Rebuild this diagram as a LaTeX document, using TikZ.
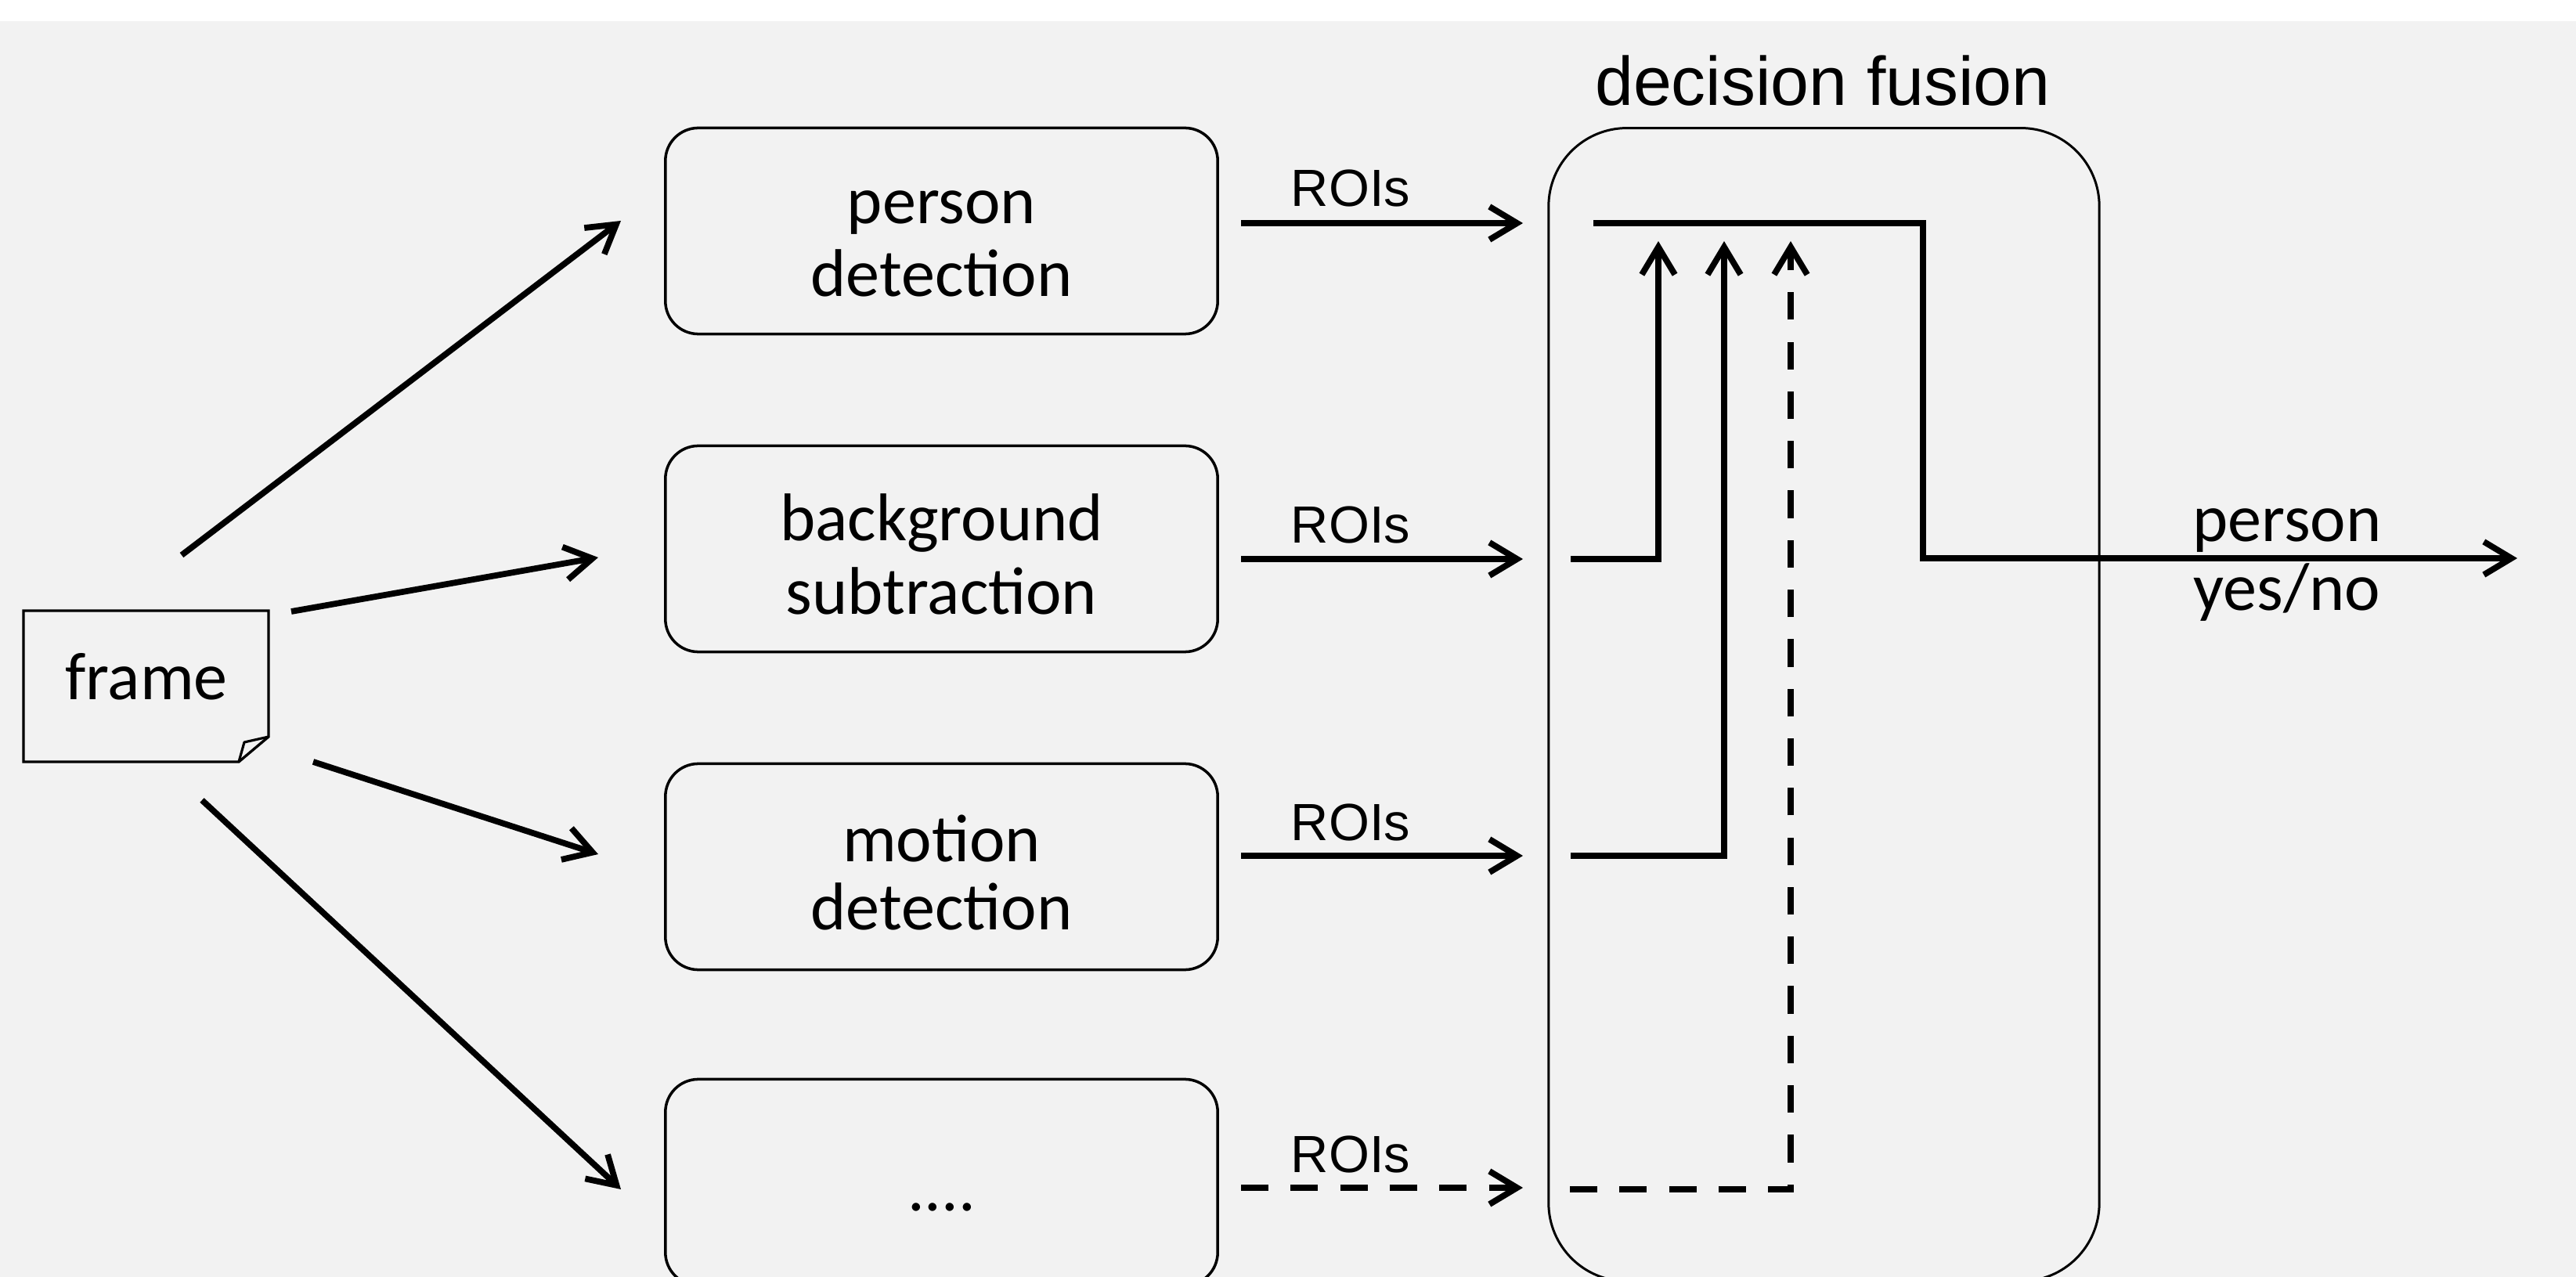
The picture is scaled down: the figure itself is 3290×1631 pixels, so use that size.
\documentclass[tikz,border=0pt]{standalone}
\usepackage{fontspec}
\setmainfont{Carlito}
\newfontfamily\arialfont{Liberation Sans}
\usetikzlibrary{arrows.meta}
\definecolor{bggray}{HTML}{F2F2F2}
\newcommand\lblfont{\fontsize{24.5pt}{24.5pt}\selectfont}
\newcommand\mystrut{\rule[-0.5pt]{0pt}{22pt}}
\begin{document}
\begin{tikzpicture}[x=0.01cm,y=-0.01cm,
  box/.style={draw=black,line width=1pt,rounded corners=0.42cm,
    minimum width=7.05cm,minimum height=2.63cm,inner sep=0pt,
    align=center,font=\lblfont},
  fusbox/.style={draw=black,line width=0.85pt,rounded corners=1cm,
    minimum width=7.03cm,minimum height=14.72cm,inner sep=0pt},
  framebox/.style={draw=black,line width=0.95pt,line join=miter},
  txt/.style={font=\lblfont,anchor=base,inner sep=0pt},
  roi/.style={font=\arialfont\fontsize{19pt}{22pt}\selectfont,anchor=base,inner sep=0pt},
  ttl/.style={font=\arialfont\fontsize{25pt}{30pt}\selectfont,anchor=base,inner sep=0pt},
  arr/.style={line width=2.2pt,-{Straight Barb[length=10pt,width=12pt]}},
  dsh/.style={dash pattern=on 10pt off 8pt}]
\useasboundingbox (0,0) rectangle (3290,1631);
\clip (0,0) rectangle (3290,1631);
\fill[white] (0,0) rectangle (3290,1631);
\fill[bggray] (0,27) rectangle (3290,1631);

% detector boxes
\node[box] (pd) at (1202.5,295) {\mystrut person\\\mystrut detection};
\node[box] (bs) at (1202.5,701) {\mystrut background\\\mystrut subtraction};
\node[box] (md) at (1202.5,1107) {\mystrut motion\\\mystrut detection};
\node[box] (etc) at (1202.5,1510) {\mystrut ....};

% fusion box
\node[fusbox] (fus) at (2329.5,900) {};
\node[ttl] (ftitle) at (2328,135) {decision fusion};

% frame
\draw[framebox] (30,780) -- (343,780) -- (343,941) -- (305,973) -- (30,973) -- cycle;
\draw[line width=0.9pt,line join=round] (343,941) -- (312,948) -- (305,973);
\node[txt] (frame) at (187,894) {frame};

% arrows from frame
\coordinate (a1s) at (232,709);  \coordinate (a1e) at (793,282);
\coordinate (a2s) at (372,781);  \coordinate (a2e) at (764,712);
\coordinate (a3s) at (400,973);  \coordinate (a3e) at (764,1091);
\coordinate (a4s) at (258,1022); \coordinate (a4e) at (793,1519);
\draw[arr] (a1s) -- (a1e);
\draw[arr] (a2s) -- (a2e);
\draw[arr] (a3s) -- (a3e);
\draw[arr] (a4s) -- (a4e);

% ROIs arrows
\coordinate (r1s) at (1585,285);  \coordinate (r1e) at (1945,285);
\coordinate (r2s) at (1585,714);  \coordinate (r2e) at (1945,714);
\coordinate (r3s) at (1585,1093); \coordinate (r3e) at (1945,1093);
\coordinate (r4s) at (1585,1517); \coordinate (r4e) at (1945,1517);
\draw[arr] (r1s) -- (r1e);
\draw[arr] (r2s) -- (r2e);
\draw[arr] (r3s) -- (r3e);
\draw[arr,dsh] (r4s) -- (r4e);
\node[roi] (l1) at (1725,264) {ROIs};
\node[roi] (l2) at (1725,694) {ROIs};
\node[roi] (l3) at (1725,1073) {ROIs};
\node[roi] (l4) at (1725,1497) {ROIs};

% inside fusion
\coordinate (t0) at (2035,285); \coordinate (t1) at (2456,285);
\coordinate (t2) at (2456,713); \coordinate (out) at (3215,713);
\draw[arr] (t0) -- (t1) -- (t2) -- (out);
\coordinate (b0) at (2006,714);  \coordinate (b1) at (2118,714);  \coordinate (b2) at (2118,308);
\coordinate (m0) at (2006,1093); \coordinate (m1) at (2202,1093); \coordinate (m2) at (2202,308);
\coordinate (d0) at (2005,1519); \coordinate (d1) at (2287,1519); \coordinate (d2) at (2287,308);
\draw[arr] (b0) -- (b1) -- (b2);
\draw[arr] (m0) -- (m1) -- (m2);
\draw[arr,dsh] (d0) -- (d1) -- (d2);

% output label
\node[txt] (o1) at (2921,692) {person};
\node[txt] (o2) at (2921,780) {yes/no};
\end{tikzpicture}
\end{document}
